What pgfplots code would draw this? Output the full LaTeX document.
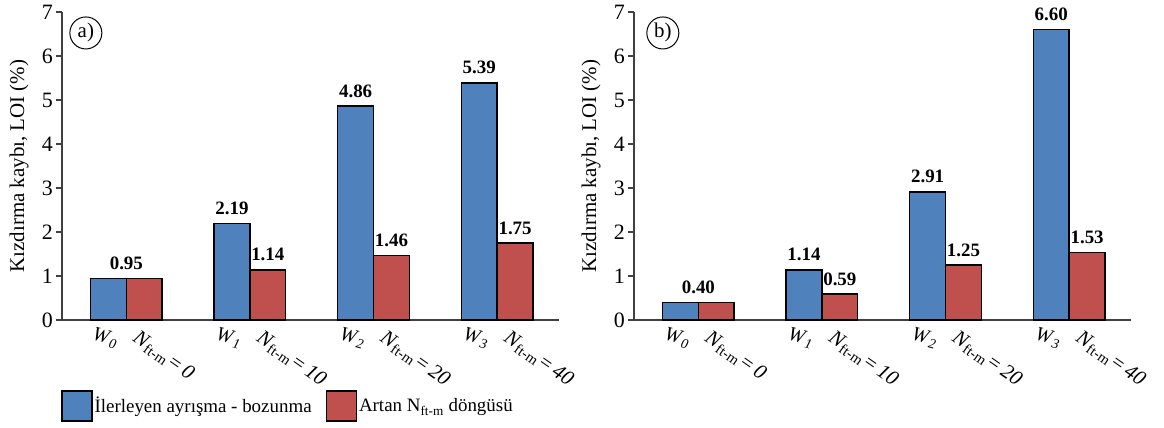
\documentclass[border=0pt]{standalone}
\usepackage{pgfplots}
\pgfplotsset{compat=1.18}
\usepackage{pgfplotstable}
\usepackage{fontspec}
\setmainfont{Liberation Serif}

\definecolor{barblue}{RGB}{79,129,189}
\definecolor{barred}{RGB}{192,80,77}
\definecolor{axisgray}{RGB}{64,64,64}

% LOI values; dx moves the shared label of the reference group to the group centre
\pgfplotstableread{
x y lbl dx
0 0.95 0.95 18
1 2.19 2.19 0
2 4.86 4.86 0
3 5.39 5.39 0
}\weatherA
\pgfplotstableread{
x y lbl dx
0 0.95 {} 0
1 1.14 1.14 0
2 1.46 1.46 0
3 1.75 1.75 0
}\cycleA
\pgfplotstableread{
x y lbl dx
0 0.40 0.40 18
1 1.14 1.14 0
2 2.91 2.91 0
3 6.60 6.60 0
}\weatherB
\pgfplotstableread{
x y lbl dx
0 0.40 {} 0
1 0.59 0.59 0
2 1.25 1.25 0
3 1.53 1.53 0
}\cycleB

\newcommand{\Wl}[1]{\textit{W}\textsubscript{\textit{#1}}}
\newcommand{\Nl}[1]{\textit{N}\textsubscript{ft-m}\kern0.5bp\textit{=\,#1}}

\tikzset{
  tag/.style={circle, draw=black, line width=1bp, inner sep=0pt, minimum size=32bp,
    font=\fontsize{21}{24}\selectfont},
}

\pgfplotsset{
  panel/.style={
    scale only axis, width=497bp, height=308bp,
    xmin=-0.52, xmax=3.5, ymin=0, ymax=7,
    clip=false,
    axis lines*=left,
    axis line style={axisgray, line width=1.8bp},
    ybar, bar width=0.29,
    ytick={0,1,...,7},
    ytick style={axisgray, line width=1.4bp},
    tick align=outside, major tick length=6bp,
    /pgf/number format/assume math mode=true,
    yticklabel style={font=\fontsize{22}{26}\selectfont, inner sep=3bp},
    xtick={-0.145,0.855,1.855,2.855},
    xticklabels={\Wl{0},\Wl{1},\Wl{2},\Wl{3}},
    x tick style={draw=none},
    xticklabel style={font=\fontsize{20}{24}\selectfont, rotate=-15, anchor=north,
      yshift=-3bp, inner sep=1bp},
    extra x ticks={0.145,1.145,2.145,3.145},
    extra x tick labels={\Nl{0},\Nl{10},\Nl{20},\Nl{40}},
    extra x tick style={
      xticklabel style={font=\fontsize{21}{24}\selectfont, rotate=-20,
        anchor=north west, xshift=-4bp, yshift=-1bp, inner sep=1bp},
      x tick style={draw=none}},
    ylabel={Kızdırma kaybı, LOI (\%)},
    ylabel style={font=\fontsize{21}{25}\selectfont, at={(rel axis cs:0,0.5)},
      anchor=center, yshift=43bp},
    legend image code/.code={
      \draw[#1, draw=black, line width=1.4bp] (0bp,-15bp) rectangle (30bp,15bp);},
  },
  valuelabels/.style={
    point meta=explicit symbolic,
    nodes near coords,
    visualization depends on={\thisrow{dx} \as \dx},
    nodes near coords style={font=\bfseries\fontsize{19}{22}\selectfont,
      anchor=south, inner sep=3bp, xshift=\dx bp, yshift=5bp, text=black},
  },
  weatherbar/.style={fill=barblue, draw=black, line width=1.4bp, bar shift=-0.145, valuelabels},
  cyclebar/.style={fill=barred, draw=black, line width=1.4bp, bar shift=0.145, valuelabels},
}

\begin{document}
\begin{tikzpicture}
\path[use as bounding box] (-62bp,-108bp) rectangle (1102bp,320bp);

\begin{axis}[panel,
  legend columns=2,
  legend style={at={(rel axis cs:0,0)}, anchor=north west, yshift=-68bp,
    xshift=-4bp, draw=none, fill=none, font=\fontsize{19}{22}\selectfont,
    /tikz/every even column/.append style={column sep=12bp}},
]
\addplot[weatherbar] table[x=x, y=y, meta=lbl] {\weatherA};
\addplot[cyclebar] table[x=x, y=y, meta=lbl] {\cycleA};
\legend{İlerleyen ayrışma - bozunma, Artan N\textsubscript{ft-m} döngüsü}
\node[tag] at (rel axis cs:0.048,0.932) {a)};
\end{axis}

\begin{axis}[panel, at={(572bp,0bp)}]
\addplot[weatherbar] table[x=x, y=y, meta=lbl] {\weatherB};
\addplot[cyclebar] table[x=x, y=y, meta=lbl] {\cycleB};
\node[tag] at (rel axis cs:0.058,0.932) {b)};
\end{axis}
\end{tikzpicture}
\end{document}
